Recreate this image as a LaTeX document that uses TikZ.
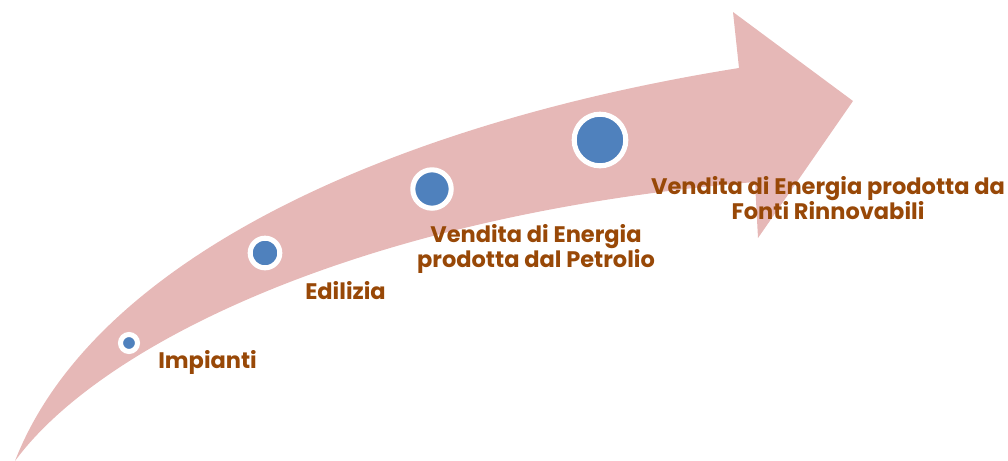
\documentclass[tikz,border=0pt]{standalone}
\usepackage{fontspec}
\setmainfont{Poppins}
\definecolor{arrowpink}{HTML}{E6B8B7}
\definecolor{dotblue}{HTML}{4F81BD}
\definecolor{labelbrown}{HTML}{984807}
\tikzset{
  dot/.style={circle,fill=dotblue,draw=white,line width=3.6pt,inner sep=0pt},
  lbl/.style={text=labelbrown,font=\bfseries\fontsize{16}{14.2}\selectfont,inner sep=0pt,align=center}
}
\begin{document}
\begin{tikzpicture}[x=0.025cm,y=-0.025cm]
\useasboundingbox(0,0)rectangle(1008,461);
%arrow
\fill[arrowpink](15,461)..controls(95,255)and(400,122)..(739,68)--(733,12)--(853,101)--(758,238)--(755,182)..controls(360,215)and(100,345)..(15,461)--cycle;
%circles
\node[dot,minimum size=0.425cm](c1)at(129,343){};
\node[dot,minimum size=0.74cm](c2)at(265,253){};
\node[dot,minimum size=0.96cm](c3)at(432,189){};
\node[dot,minimum size=1.29cm](c4)at(600,140){};
%labels
\node[lbl,anchor=base west](l1)at(158,368){Impianti};
\node[lbl,anchor=base west](l2)at(305,299){Edilizia};
\node[lbl](l3)at(536,249){Vendita di Energia\\prodotta dal Petrolio};
\node[lbl](l4)at(828,198){Vendita di Energia prodotta da\\Fonti Rinnovabili};
\end{tikzpicture}
\end{document}
